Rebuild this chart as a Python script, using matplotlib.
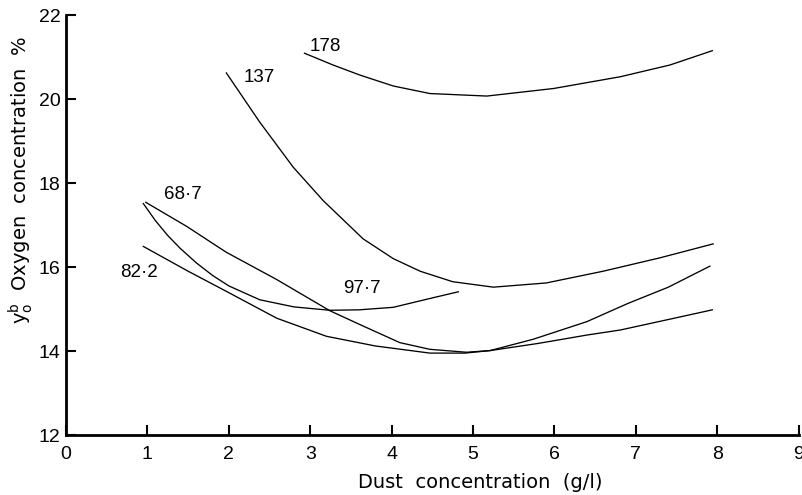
import matplotlib
matplotlib.use("Agg")
import matplotlib.pyplot as plt

plt.rcParams['font.family'] = ['Liberation Sans', 'DejaVu Sans']
plt.rcParams['mathtext.fontset'] = 'custom'
plt.rcParams['mathtext.rm'] = 'DejaVu Sans'
plt.rcParams['mathtext.it'] = 'DejaVu Sans'

# curves, labelled by their value
x_178 = [2.93, 3.28, 3.61, 4.02, 4.47, 5.17, 5.99, 6.81, 7.42, 7.94]
y_178 = [21.09, 20.81, 20.57, 20.31, 20.13, 20.07, 20.25, 20.53, 20.81, 21.15]

x_137 = [1.97, 2.38, 2.79, 3.16, 3.65, 4.02, 4.35, 4.75, 5.25, 5.9, 6.6, 7.3, 7.95]
y_137 = [20.62, 19.45, 18.38, 17.58, 16.67, 16.2, 15.9, 15.65, 15.52, 15.62, 15.9, 16.22, 16.55]

x_977 = [0.95, 1.1, 1.25, 1.4, 1.6, 1.8, 2.0, 2.38, 2.8, 3.24, 3.6, 4.02, 4.47, 4.82]
y_977 = [17.51, 17.1, 16.75, 16.45, 16.1, 15.8, 15.55, 15.22, 15.05, 14.97, 14.98, 15.04, 15.25, 15.41]

x_687 = [0.98, 1.48, 1.97, 2.59, 3.24, 3.61, 4.1, 4.47, 4.92, 5.21, 5.74, 6.4, 6.9, 7.4, 7.91]
y_687 = [17.54, 16.97, 16.35, 15.7, 14.96, 14.63, 14.2, 14.04, 13.97, 14.01, 14.28, 14.7, 15.13, 15.52, 16.02]

x_822 = [0.95, 1.5, 1.97, 2.59, 3.2, 3.8, 4.47, 4.9, 5.21, 5.8, 6.4, 6.81, 7.4, 7.94]
y_822 = [16.49, 15.9, 15.42, 14.78, 14.35, 14.12, 13.95, 13.95, 14.01, 14.18, 14.38, 14.5, 14.75, 14.98]

# curve labels and where they sit
labels = ['178', '137', '68\u00b77', '82\u00b72', '97\u00b77']
label_x = [3.19, 2.38, 1.43, 0.90, 3.63]
label_y = [21.24, 20.51, 17.72, 15.86, 15.48]

fig = plt.figure(figsize=(8.02, 4.95), dpi=100)
ax = fig.add_axes([66 / 802, 1 - 435 / 495, 732.6 / 802, 420 / 495])

for xs, ys in [(x_178, y_178), (x_137, y_137), (x_977, y_977), (x_687, y_687), (x_822, y_822)]:
    ax.plot(xs, ys, color='black', lw=0.95)

for t, lx, ly in zip(labels, label_x, label_y):
    ax.text(lx, ly, t, fontsize=13.5, ha='center', va='center')

ax.set_xlim(0, 9)
ax.set_ylim(12, 22)
ax.set_xticks(range(0, 10))
ax.set_yticks(range(12, 23, 2))

ax.spines['top'].set_visible(False)
ax.spines['right'].set_visible(False)
ax.spines['left'].set_linewidth(2)
ax.spines['bottom'].set_linewidth(2)
ax.tick_params(direction='in', length=7, width=1.5, labelsize=14)
ax.tick_params(axis='x', pad=8)
ax.tick_params(axis='y', pad=4)

ax.set_xlabel('Dust  concentration  (g/l)', fontsize=14, family='DejaVu Sans')
ax.xaxis.label.set_va('center')
ax.xaxis.set_label_coords((480 - 66) / 732.6, -0.112)
ax.text(-0.062, 0.607, r'$\mathrm{y}_{\mathrm{o}}^{\mathrm{b}}$  Oxygen  concentration  %',
        transform=ax.transAxes, rotation=90, ha='center', va='center',
        fontsize=14, family='DejaVu Sans')

fig.savefig('out.png', dpi=100)
